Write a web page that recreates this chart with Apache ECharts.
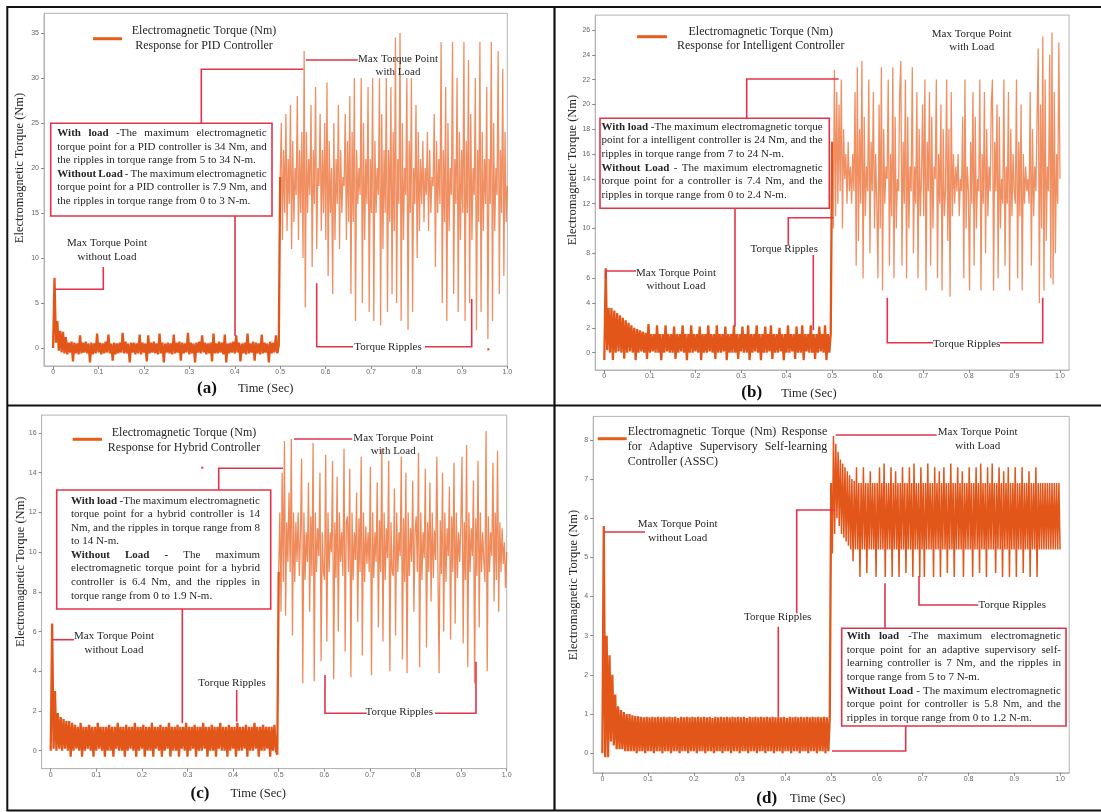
<!DOCTYPE html>
<html><head><meta charset="utf-8">
<script src="https://cdn.jsdelivr.net/npm/echarts@6/dist/echarts.min.js"></script>
<style>html,body{margin:0;padding:0;background:#fff}#c{width:1101px;height:812px}</style>
</head><body><div id="c"></div>
<script>
// ---------- tick labels ----------
const xTicks = [0, 0.1, 0.2, 0.3, 0.4, 0.5, 0.6, 0.7, 0.8, 0.9, 1.0];
const yTicksA = [0, 5, 10, 15, 20, 25, 30, 35];
const yTicksB = [0, 2, 4, 6, 8, 10, 12, 14, 16, 18, 20, 22, 24, 26];
const yTicksC = [0, 2, 4, 6, 8, 10, 12, 14, 16];
const yTicksD = [0, 1, 2, 3, 4, 5, 6, 7, 8];

// ---------- series values ----------
// (a) PID controller: 0 - 0.5 s without load, 0.5 - 1.0 s with load
const pidNoLoad = [
  0, 7.8, 0.6, 3.0, -0.3, 1.9, -0.5, 1.8, -0.6, 1.2, -0.7, 0.6, -0.5, 0.7, -1.5, 0.6, -0.6, 0.5, -0.7, 1.4,
  -0.6, 0.6, -0.5, 0.7, -0.6, 0.5, -1.6, 0.6, -0.7, 0.5, -0.6, 1.6, -0.5, 0.6, -0.7, 0.5, -0.6, 0.7, -0.5, 1.5,
  -0.6, 0.5, -1.4, 0.6, -0.7, 0.5, -0.6, 0.6, -0.5, 1.7, -0.6, 0.7, -0.6, 0.5, -1.6, 0.6, -0.5, 0.6, -0.7, 0.5,
  -0.6, 1.5, -0.7, 0.6, -0.5, 0.5, -1.5, 1.4, -0.6, 0.6, -0.5, 0.7, -0.6, 0.5, -0.7, 1.6, -0.6, 0.6, -1.6, 0.5,
  -0.5, 0.6, -0.6, 0.5, -0.7, 1.5, -0.6, 0.6, -0.5, 0.7, -1.4, 0.6, -0.6, 0.5, -0.5, 1.7, -0.7, 0.6, -0.6, 0.5,
  -1.6, 0.6, -0.5, 0.7, -0.6, 1.4, -0.5, 0.6, -0.7, 0.5, -0.6, 0.6, -1.5, 1.6, -0.6, 0.5, -0.6, 0.7, -0.5, 0.6,
  -0.7, 1.5, -1.6, 0.5, -0.6, 0.6, -0.5, 0.7, -0.6, 1.4, -0.5, 0.6, -1.5, 0.5, -0.6, 0.6, -0.7, 1.6, -0.6, 0.5,
  -0.5, 0.7, -1.4, 0.6, -0.6, 0.5, -0.7, 1.5, -0.6, 0.6, -0.5, 0.5, -1.6, 0.7, -0.6, 0.6, -0.5, 1.4, -0.6, 0.3];
const pidLoad = [
  19, 25, 12, 22, 15, 26, 13, 21, 16, 27, 11, 23, 14, 20, 17, 28, 12, 22, 15, 24,
  10, 33, 4.5, 24, 15, 21, 17, 27, 9, 22, 16, 29, 11, 20, 18, 26, 13, 22, 15, 25,
  12, 29.5, 8, 23, 15, 20, 6, 25, 12, 21, 16, 27, 11, 22, 15, 19, 18, 26, 12, 23,
  14, 28, 6, 24, 14, 30, 3, 22, 16, 20, 17, 30, 5, 25, 12, 21, 16, 29, 4, 21,
  15, 30, 3, 23, 15, 20, 17, 30, 2.5, 26, 11, 22, 15, 30, 4, 22, 14, 29, 6, 24,
  13, 34.5, 5, 21, 16, 35, 3, 25, 12, 20, 17, 30, 2, 23, 15, 30, 4, 20, 16, 27,
  10, 24, 13, 21, 16, 23, 14, 20, 17, 24, 13, 22, 15, 19, 18, 26, 9, 23, 15, 21,
  16, 34, 5, 22, 14, 29, 3, 25, 13, 20, 17, 34, 6, 21, 16, 30, 4, 24, 12, 22,
  15, 34, 3, 23, 15, 32, 5, 26, 12, 20, 17, 30, 2, 22, 14, 34, 4, 24, 13, 21,
  16, 29, 1, 21, 16, 34, 3, 25, 13, 20, 17, 33, 6, 22, 15, 31, 8, 24, 14, 18];

// (b) Intelligent controller
const intNoLoad = [
  -0.6, 6.8, 0.2, 3.6, 0, 3.6, -0.6, 3.4, 0, 3.2, 0.1, 3.0, 0, 2.8, -0.5, 2.6, 0, 2.4, 0.1, 2.2,
  0, 2.0, -0.6, 1.9, 0, 1.8, 0.1, 1.7, 0, 1.6, -0.5, 2.3, 0, 1.5, 0.1, 1.5, 0, 2.2, 0, 1.5,
  -0.6, 1.5, 0, 2.2, 0.1, 1.5, 0, 1.5, 0, 2.1, -0.5, 1.5, 0, 1.5, 0.1, 2.2, 0, 1.5, -0.6, 1.5,
  0, 2.2, 0, 1.5, 0.1, 1.5, 0, 2.1, -0.6, 1.5, 0, 1.5, 0, 2.2, 0.1, 1.5, 0, 1.5, -0.5, 2.2,
  0, 1.5, 0, 1.5, 0.1, 2.1, -0.6, 1.5, 0, 1.5, 0, 2.2, 0, 1.5, -0.5, 1.5, 0.1, 2.1, 0, 1.5,
  0, 2.2, -0.6, 1.5, 0, 1.5, 0.1, 2.2, 0, 1.5, -0.6, 1.5, 0, 2.1, 0, 1.5, 0.1, 2.2, -0.5, 1.5,
  0, 1.5, 0, 2.0, 0.1, 1.5, -0.6, 1.5, 0, 2.2, 0, 1.5, 0.1, 1.5, -0.5, 2.1, 0, 1.5, 0, 2.2,
  -0.6, 1.5, 0.1, 1.5, 0, 2.2, 0, 1.5, -0.5, 1.5, 0, 2.1, 0.1, 1.5, 0, 2.2, -0.6, 1.5, 0, 1.5];
const intLoad = [
  17, 10, 22.8, 11, 21, 12, 20, 13, 22, 10, 18, 14, 16, 12, 17, 13, 15, 12, 16, 13,
  21, 7, 23, 9, 18, 12, 23.5, 6, 19, 11, 15, 13, 22, 8, 17, 13, 21, 10, 16, 12,
  6, 20, 10, 23, 5, 18, 12, 15, 14, 22, 7, 16, 11, 23, 6, 19, 10, 14, 13, 21,
  23.5, 7, 17, 12, 22, 6, 19, 10, 15, 13, 23, 8, 15, 12, 21, 6, 18, 11, 14, 20,
  11, 22, 5, 17, 13, 21, 7, 19, 10, 15, 14, 22, 6, 16, 12, 20, 5, 18, 11, 13,
  22, 9, 18, 4.5, 21, 11, 16, 12, 15, 13, 16, 11, 14, 13, 19, 6, 22, 10, 15, 13,
  5, 17, 12, 21, 7, 19, 10, 14, 13, 22, 5, 16, 12, 21, 8, 18, 11, 15, 13, 20,
  22, 5, 17, 13, 20, 6, 19, 10, 14, 12, 22, 7, 15, 12, 21, 5, 18, 11, 16, 13,
  12, 22, 6, 17, 11, 20, 5, 16, 12, 15, 13, 14, 12, 21, 7, 18, 11, 15, 13, 19,
  24.5, 4, 20, 10, 25.5, 5, 22, 9, 15, 13, 24, 6, 25.8, 5.5, 21, 8, 16, 12, 25, 14];

// (c) Hybrid controller
const hybNoLoad = [
  0, 6.4, 0.1, 3.0, 0, 1.9, 0.1, 1.7, 0, 1.6, 0.1, 1.5, 0, 1.5, -0.3, 1.4, 0, 1.3, 0.1, 1.2,
  0, 1.4, -0.3, 1.2, 0, 1.2, 0.1, 1.3, 0, 1.2, -0.3, 1.2, 0, 1.4, 0.1, 1.2, 0, 1.2, -0.3, 1.2,
  0, 1.3, 0, 1.2, -0.3, 1.2, 0.1, 1.4, 0, 1.2, 0, 1.2, -0.3, 1.3, 0, 1.2, 0.1, 1.2, 0, 1.4,
  -0.3, 1.2, 0, 1.2, 0.1, 1.3, -0.3, 1.2, 0, 1.2, 0, 1.4, -0.3, 1.2, 0.1, 1.2, 0, 1.3, -0.3, 1.2,
  0, 1.2, 0.1, 1.4, -0.3, 1.2, 0, 1.2, 0, 1.3, -0.3, 1.2, 0.1, 1.2, 0, 1.4, -0.3, 1.2, 0, 1.2,
  0.1, 1.3, -0.3, 1.2, 0, 1.2, 0, 1.4, 0.1, 1.2, -0.3, 1.2, 0, 1.3, 0, 1.2, -0.3, 1.2, 0.1, 1.4,
  0, 1.2, 0, 1.2, -0.3, 1.3, 0, 1.2, 0.1, 1.2, -0.3, 1.4, 0, 1.2, 0, 1.2, 0.1, 1.3, -0.3, 1.2,
  0, 1.2, 0, 1.4, 0.1, 1.2, -0.3, 1.2, 0, 1.3, 0, 1.2, 0.1, 1.2, -0.3, 1.2, 0, 1.3, 0, -0.2];
const hybLoad = [
  9, 12, 7, 14, 8.5, 15.6, 6.8, 11.5, 9.5, 13, 9, 15.7, 5.8, 12, 8.5, 11.5, 9.5, 12, 8.8, 11,
  14.7, 3.4, 12, 8.6, 11, 9.5, 13.5, 7, 11.8, 8.8, 15.5, 3.5, 12, 9, 11.2, 9.8, 14, 4.5, 11, 9,
  8.6, 14.9, 5.5, 12, 9, 11, 10, 14.6, 3.6, 11.5, 8.7, 13.8, 6, 12, 9.5, 11, 8.8, 15.2, 5, 11.5,
  11.8, 9, 14.2, 3.7, 12, 8.6, 11, 9.6, 13, 6.5, 11.7, 9, 14.8, 4.8, 12, 8.5, 11.3, 9.4, 11, 9,
  14.3, 3.8, 12, 8.7, 11, 9.5, 13.5, 6.2, 11.6, 9, 15.2, 5.5, 12, 8.6, 11.2, 9.7, 14.6, 4, 11.5, 9,
  8.8, 13.2, 5.8, 12, 9, 11, 9.8, 14.8, 4.6, 11.7, 8.5, 14, 3.9, 12, 8.8, 11.2, 9.5, 13.6, 7, 11,
  11.8, 9, 15, 4.2, 12, 8.6, 11, 9.7, 14.2, 5.2, 11.5, 9, 13.5, 7.5, 12, 8.7, 11.1, 9.6, 14.8, 9,
  3.9, 11.6, 8.9, 14, 6, 12, 8.5, 11.2, 9.8, 13.3, 5.6, 11.8, 9, 14.5, 6.4, 12, 8.7, 11, 9.5, 11.5,
  14.8, 5.4, 11.5, 8.6, 15.4, 4.2, 12, 9, 11.2, 9.8, 13.6, 3.4, 11.7, 8.8, 14.6, 6.2, 12, 9, 11, 9.6,
  8.5, 16.1, 4, 11.8, 9, 11, 9.8, 14.5, 7.5, 12, 8.6, 15.1, 7, 11.5, 9, 11.2, 9.4, 10.5, 8.2, 10];

// (d) ASSC controller
const asscNoLoad = [
  0, 5.8, -0.1, 3.0, -0.1, 2.5, 0.3, 2.0, 0.2, 1.5, 0.1, 1.2, 0.1, 1.1, 0.1, 1.05, 0.05, 1.0, 0.05, 1.0,
  0.05, 0.97, 0.05, 0.95, 0, 0.94, 0.05, 0.93, 0.05, 0.92, 0, 0.93, 0.05, 0.92, 0.05, 0.93, 0, 0.92, 0.05, 0.93,
  0.05, 0.92, 0, 0.93, 0.05, 0.92, 0.05, 0.93, 0, 0.92, 0.05, 0.93, 0.05, 0.9, 0, 0.93, 0.05, 0.92, 0.05, 0.93,
  0, 0.92, 0.05, 0.93, 0.05, 0.92, 0, 0.93, 0.05, 0.92, 0.05, 0.93, 0, 0.92, 0.05, 0.93, 0.05, 0.9, 0, 0.93,
  0.05, 0.92, 0.05, 0.93, 0, 0.92, 0.05, 0.93, 0.05, 0.92, 0, 0.93, 0.05, 0.92, 0.05, 0.93, 0, 0.92, 0.05, 0.93,
  0.05, 0.9, 0, 0.93, 0.05, 0.92, 0.05, 0.93, 0, 0.92, 0.05, 0.93, 0.05, 0.92, 0, 0.93, 0.05, 0.92, 0.05, 0.93,
  0, 0.92, 0.05, 0.93, 0.05, 0.92, 0, 0.93, 0.05, 0.9, 0.05, 0.93, 0, 0.92, 0.05, 0.93, 0.05, 0.92, 0, 0.93,
  0.05, 0.92, 0.05, 0.93, 0, 0.92, 0.05, 0.93, 0.05, 0.92, 0, 0.93, 0.05, 0.92, 0.05, 0.93, 0, 0.92, 0.05, 0.9];
const asscLoad = [
  6.9, 5.1, 8.1, 5.6, 7.9, 6.0, 7.7, 5.8, 7.5, 5.6, 7.4, 5.5, 7.3, 5.4, 7.2, 5.3, 7.1, 5.2, 7.0, 4.9,
  6.95, 5.2, 7.3, 5.2, 6.9, 4.5, 6.9, 5.2, 7.3, 5.2, 6.9, 4.6, 6.9, 5.2, 7.2, 5.2, 6.9, 5.2, 6.9, 4.5,
  6.9, 5.2, 7.3, 5.2, 6.9, 5.2, 7.4, 4.5, 6.9, 5.2, 6.9, 5.2, 7.3, 4.5, 6.9, 5.2, 7.2, 5.2, 6.9, 4.5,
  6.9, 5.2, 7.3, 5.2, 6.9, 4.6, 6.9, 5.2, 7.3, 5.2, 6.9, 4.5, 7.4, 5.2, 6.9, 5.2, 6.9, 4.5, 7.3, 5.2,
  6.9, 4.5, 6.9, 5.2, 7.4, 5.2, 6.9, 5.2, 6.9, 4.5, 7.3, 5.2, 6.9, 5.2, 7.2, 4.5, 6.9, 5.2, 7.3, 5.2,
  6.9, 4.6, 6.9, 5.2, 7.4, 5.2, 6.9, 4.5, 6.9, 5.2, 7.3, 5.2, 6.9, 5.2, 7.2, 4.5, 6.9, 5.2, 6.9, 5.2,
  7.3, 5.2, 6.9, 4.5, 6.9, 5.2, 7.3, 5.2, 6.9, 4.6, 7.4, 5.2, 6.9, 5.2, 6.9, 4.5, 7.3, 5.2, 6.9, 5.2,
  7.4, 5.2, 6.9, 4.6, 6.9, 5.2, 7.3, 5.2, 6.9, 4.5, 7.2, 5.2, 6.9, 5.2, 7.3, 4.5, 6.9, 5.2, 6.9, 5.2,
  7.3, 4.5, 6.9, 5.2, 6.9, 5.2, 7.3, 4.6, 6.9, 5.2, 6.9, 5.2, 7.2, 4.5, 6.9, 5.2, 6.9, 5.2, 7.3, 4.5,
  6.9, 5.2, 6.9, 5.2, 6.9, 5.2, 6.9, 5.2, 6.9, 5.2, 6.9, 5.2, 6.9, 5.2, 6.9, 5.2, 6.9, 5.2, 6.9, 5.2];

// ---------- layout / style ----------
const RED = '#e2334b';
const ORANGE = '#e2561a';
const ORANGE_L = '#eb6a2d';
const TXT = '#262626';
const SERIF = '"Liberation Serif", "DejaVu Serif", serif';

const panels = [
  {name: 'Electromagnetic Torque (Nm) Response for PID Controller', noLoad: pidNoLoad, load: pidLoad, yTicks: yTicksA,
   grid: {left: 44, top: 13.3, width: 463.3, height: 352.7}, xMax: 1.0, yMin: -2, yMax: 37.2, loadW: 1.3, loadO: 0.75},
  {name: 'Electromagnetic Torque (Nm) Response for Intelligent Controller', noLoad: intNoLoad, load: intLoad, yTicks: yTicksB,
   grid: {left: 595.2, top: 15.1, width: 473.9, height: 354.9}, xMax: 1.02, yMin: -1.4, yMax: 27.2, loadW: 1.3, loadO: 0.75},
  {name: 'Electromagnetic Torque (Nm) Response for Hybrid Controller', noLoad: hybNoLoad, load: hybLoad, yTicks: yTicksC,
   grid: {left: 41.6, top: 415.1, width: 465.1, height: 353.5}, xMax: 1.0, yMin: -0.9, yMax: 16.9, loadW: 1.3, loadO: 0.78},
  {name: 'Electromagnetic Torque (Nm) Response for Adaptive Supervisory Self-learning Controller (ASSC)', noLoad: asscNoLoad, load: asscLoad, yTicks: yTicksD,
   grid: {left: 593.2, top: 416.4, width: 476, height: 356.4}, xMax: 1.02, yMin: -0.5, yMax: 8.6, loadW: 1.5, loadO: 1}
];

function noLoadPoints(p) {
  const n = p.noLoad.length, out = [];
  for (let i = 0; i < n; i++) out.push([i * 0.5 / n, p.noLoad[i]]);
  out.push([0.5, p.load[0]]);
  return out;
}
function loadPoints(p) {
  const m = p.load.length, out = [];
  for (let i = 0; i < m; i++) out.push([0.5 + i * 0.5 / (m - 1), p.load[i]]);
  return out;
}

const grids = [], xAxes = [], yAxes = [], series = [];
panels.forEach((p, k) => {
  grids.push(Object.assign({show: true, borderColor: '#b4b4b4', borderWidth: 1, backgroundColor: 'transparent', containLabel: false}, p.grid));
  xAxes.push({type: 'value', gridIndex: k, min: -0.02, max: p.xMax,
    axisLine: {show: true, onZero: false, lineStyle: {color: '#b4b4b4', width: 1}},
    axisTick: {show: true, length: 3, customValues: xTicks, lineStyle: {color: '#888'}},
    axisLabel: {customValues: xTicks, fontSize: 7, color: '#666', margin: 3, fontFamily: 'Liberation Sans, sans-serif',
      formatter: v => (v === 0 ? '0' : v.toFixed(1))},
    splitLine: {show: false}});
  yAxes.push({type: 'value', gridIndex: k, min: p.yMin, max: p.yMax,
    axisLine: {show: true, onZero: false, lineStyle: {color: '#b4b4b4', width: 1}},
    axisTick: {show: true, length: 3, customValues: p.yTicks, lineStyle: {color: '#888'}},
    axisLabel: {customValues: p.yTicks, fontSize: 7, color: '#666', margin: 5, fontFamily: 'Liberation Sans, sans-serif'},
    splitLine: {show: false}});
  series.push({type: 'line', name: p.name, xAxisIndex: k, yAxisIndex: k, data: noLoadPoints(p), showSymbol: false, symbol: 'none',
    animation: false, silent: true, sampling: null, lineStyle: {color: ORANGE, width: 2.3, join: 'bevel'}, z: 3});
  series.push({type: 'line', name: p.name, xAxisIndex: k, yAxisIndex: k, data: loadPoints(p), showSymbol: false, symbol: 'none',
    animation: false, silent: true, sampling: null, lineStyle: {color: p.loadO < 1 ? ORANGE_L : ORANGE, width: p.loadW, opacity: p.loadO, join: 'bevel'}, z: 2});
});

// ---------- graphic helpers ----------
const G = [];
const ctx = document.createElement('canvas').getContext('2d');
function fontStr(size, bold) { return (bold ? 'bold ' : '') + size + 'px ' + SERIF; }
function measure(t, size, bold) { ctx.font = fontStr(size, bold); return ctx.measureText(t).width; }
function text(x, y, t, opt) {
  opt = opt || {};
  const size = opt.size || 11;
  G.push({type: 'text', x: x, y: y, rotation: opt.rot || 0, z: 100, silent: true,
    style: {text: t, font: fontStr(size, opt.bold), fill: opt.color || TXT,
      textAlign: opt.align || 'center', align: opt.align || 'center',
      textVerticalAlign: 'middle', verticalAlign: 'middle', lineHeight: opt.lh || 13.3}});
}
function poly(points, w) {
  G.push({type: 'polyline', z: 99, silent: true, shape: {points: points}, style: {stroke: RED, lineWidth: w || 1.6, fill: 'none'}});
}
function box(x, y, w, h) {
  G.push({type: 'rect', z: 98, silent: true, shape: {x: x, y: y, width: w, height: h}, style: {fill: '#fff', stroke: RED, lineWidth: 1.6}});
}
// justified paragraph: lines as [string, justify]; *...* marks bold words
function para(lines, x0, y0, lh, width, size) {
  lines.forEach((ln, li) => {
    const toks = ln[0].split(' ').filter(s => s.length);
    let bold = false;
    const words = toks.map(tk => {
      let b = bold, t = tk;
      if (t.startsWith('*')) { b = true; bold = true; t = t.slice(1); }
      if (t.endsWith('*')) { t = t.slice(0, -1); bold = false; }
      return {t: t, b: b, w: measure(t, size, b)};
    });
    const sum = words.reduce((a, w) => a + w.w, 0);
    const gap = (ln[1] && words.length > 1) ? (width - sum) / (words.length - 1) : measure(' ', size, false);
    let x = x0;
    const y = y0 + li * lh;
    words.forEach(w => { text(x, y, w.t, {size: size, bold: w.b, align: 'left'}); x += w.w + gap; });
  });
}
function legend(x1, x2, y) {
  G.push({type: 'line', z: 100, silent: true, shape: {x1: x1, y1: y, x2: x2, y2: y}, style: {stroke: '#e85d1a', lineWidth: 3}});
}

// ---------- outer black frame ----------
G.push({type: 'polyline', z: 97, silent: true, shape: {points: [[1101, 7], [7.3, 7], [7.3, 810.5], [1101, 810.5]]}, style: {stroke: '#111', lineWidth: 2, fill: 'none'}});
G.push({type: 'line', z: 97, silent: true, shape: {x1: 554.5, y1: 7, x2: 554.5, y2: 811}, style: {stroke: '#111', lineWidth: 2.2}});
G.push({type: 'line', z: 97, silent: true, shape: {x1: 7, y1: 405.5, x2: 1101, y2: 405.5}, style: {stroke: '#111', lineWidth: 2.2}});

// ---------- panel (a) ----------
legend(93, 122, 38.7);
text(204, 38.3, 'Electromagnetic Torque (Nm)\nResponse for PID Controller', {size: 12, lh: 14.7});
text(20, 168, 'Electromagnetic Torque (Nm)', {size: 12.5, rot: Math.PI / 2});
text(207, 389, '(a)', {size: 17, bold: true, color: '#111'});
text(265.7, 389, 'Time (Sec)', {size: 12.5});
text(398, 65.3, 'Max Torque Point\nwith Load');
text(107, 250, 'Max Torque Point\nwithout Load');
text(388, 347, 'Torque Ripples');
poly([[201.3, 123.3], [201.3, 69.3], [303.3, 69.3]]);
poly([[306, 60], [357.7, 60]]);
poly([[235, 216], [235, 336]]);
poly([[103.3, 267], [103.3, 289.3], [55, 289.3]]);
poly([[316.7, 283.3], [316.7, 346.7], [353, 346.7]]);
poly([[425, 346.7], [471.7, 346.7], [471.7, 299]]);
G.push({type: 'rect', z: 99, silent: true, shape: {x: 487.3, y: 348.3, width: 2, height: 2}, style: {fill: RED}});
box(50.7, 123.3, 221.3, 92.7);
para([['*With load* -The maximum electromagnetic', true],
      ['torque point for a PID  controller is 34 Nm, and', true],
      ['the ripples in torque range from 5 to 34 N-m.', false],
      ['*Without Load* - The maximum electromagnetic', true],
      ['torque point for a PID controller is 7.9 Nm, and', true],
      ['the ripples in torque range from 0 to 3 N-m.', false]], 57.3, 133.3, 13.55, 209.4, 11);

// ---------- panel (b) ----------
legend(637, 667, 36.7);
text(760.7, 38.8, 'Electromagnetic Torque (Nm)\nResponse for Intelligent Controller', {size: 12, lh: 14.7});
text(572.7, 170, 'Electromagnetic Torque (Nm)', {size: 12.5, rot: Math.PI / 2});
text(751.7, 393, '(b)', {size: 17, bold: true, color: '#111'});
text(809, 394, 'Time (Sec)', {size: 12.5});
text(971.7, 40.7, 'Max Torque Point\nwith Load');
text(676, 279.3, 'Max Torque Point\nwithout Load');
text(784.3, 249.3, 'Torque Ripples');
text(966.7, 344, 'Torque Ripples');
poly([[746.7, 118.3], [746.7, 79], [838.7, 79]]);
poly([[735, 208.3], [735, 326.7]]);
poly([[788.3, 245], [788.3, 217.7], [833.3, 217.7]]);
poly([[813.3, 255], [813.3, 330]]);
poly([[605.7, 279], [605.7, 271], [636, 271]]);
poly([[887.3, 297.7], [887.3, 342.7], [933, 342.7]]);
poly([[1000, 342.7], [1042.7, 342.7], [1042.7, 297.7]]);
box(600, 118.3, 229.3, 90);
para([['*With load* -The maximum electromagnetic torque', true],
      ['point for a intelligent  controller is 24 Nm, and the', true],
      ['ripples in torque range from 7 to 24 N-m.', false],
      ['*Without Load* - The maximum electromagnetic', true],
      ['torque point for a controller is 7.4 Nm, and the', true],
      ['ripples in torque range from 0 to 2.4 N-m.', false]], 601.5, 126.7, 13.67, 221.2, 11);

// ---------- panel (c) ----------
legend(72.7, 102, 439.3);
text(184, 440.3, 'Electromagnetic Torque (Nm)\nResponse for Hybrid Controller', {size: 12, lh: 14.7});
text(20.7, 571.7, 'Electromagnetic Torque (Nm)', {size: 12.5, rot: Math.PI / 2});
text(200, 794, '(c)', {size: 17, bold: true, color: '#111'});
text(258.3, 794, 'Time (Sec)', {size: 12.5});
text(393.3, 444.7, 'Max Torque Point\nwith Load');
text(114, 643, 'Max Torque Point\nwithout Load');
text(232, 683, 'Torque Ripples');
text(399.3, 711.7, 'Torque Ripples');
poly([[294, 439], [352.3, 439]]);
poly([[218.7, 490], [218.7, 468.3], [283, 468.3]]);
poly([[182.3, 609], [182.3, 723.3]]);
G.push({type: 'rect', z: 99, silent: true, shape: {x: 201.3, y: 466.7, width: 2, height: 2}, style: {fill: RED}});
poly([[52.3, 639.7], [74, 639.7]]);
poly([[236.7, 690], [236.7, 721.7]]);
poly([[325, 675], [325, 713.3], [366.7, 713.3]]);
poly([[435, 713.3], [476, 713.3], [476, 661.7]]);
box(56.7, 490, 214, 119);
para([['*With load* -The maximum electromagnetic', true],
      ['torque point for a hybrid  controller is 14', true],
      ['Nm, and the ripples in torque range from 8', true],
      ['to 14 N-m.', false],
      ['*Without Load -* The maximum', true],
      ['electromagnetic torque point for a hybrid', true],
      ['controller is 6.4 Nm, and the ripples in', true],
      ['torque range from 0 to 1.9 N-m.', false]], 71, 500.7, 13.57, 189, 11);

// ---------- panel (d) ----------
legend(597.7, 626.7, 438.7);
para([['Electromagnetic Torque (Nm) Response', true],
      ['for Adaptive Supervisory Self-learning', true],
      ['Controller (ASSC)', false]], 627.7, 432.3, 14.85, 199.6, 12);
text(573.3, 585, 'Electromagnetic Torque (Nm)', {size: 12.5, rot: Math.PI / 2});
text(766.7, 798.3, '(d)', {size: 17, bold: true, color: '#111'});
text(817.7, 798.3, 'Time (Sec)', {size: 12.5});
text(977.7, 439, 'Max Torque Point\nwith Load');
text(677.7, 531, 'Max Torque Point\nwithout Load');
text(777.7, 617, 'Torque Ripples');
text(1012.3, 605, 'Torque Ripples');
poly([[835.7, 435], [936.7, 435]]);
poly([[835, 510], [796.7, 510], [796.7, 613.3]]);
poly([[778.3, 626.7], [778.3, 716.7]]);
poly([[604.3, 532], [645, 532]]);
poly([[919, 576], [919, 605], [978.3, 605]]);
poly([[885, 583.3], [885, 628.3]]);
poly([[905.7, 726], [905.7, 751], [832, 751]]);
box(841.7, 628.3, 224.3, 97.7);
para([['*With load* -The maximum electromagnetic', true],
      ['torque point for an adaptive supervisory self-', true],
      ['learning  controller is 7 Nm, and the ripples in', true],
      ['torque range from 5 to 7 N-m.', false],
      ['*Without Load* - The maximum electromagnetic', true],
      ['torque point for  controller is 5.8 Nm, and the', true],
      ['ripples in torque range from 0 to 1.2 N-m.', false]], 846.7, 636, 13.72, 214.3, 11);

const chart = echarts.init(document.getElementById('c'), null, {renderer: 'canvas'});
chart.setOption({
  animation: false,
  backgroundColor: '#fff',
  grid: grids, xAxis: xAxes, yAxis: yAxes, series: series,
  graphic: {elements: G}
});
</script></body></html>
